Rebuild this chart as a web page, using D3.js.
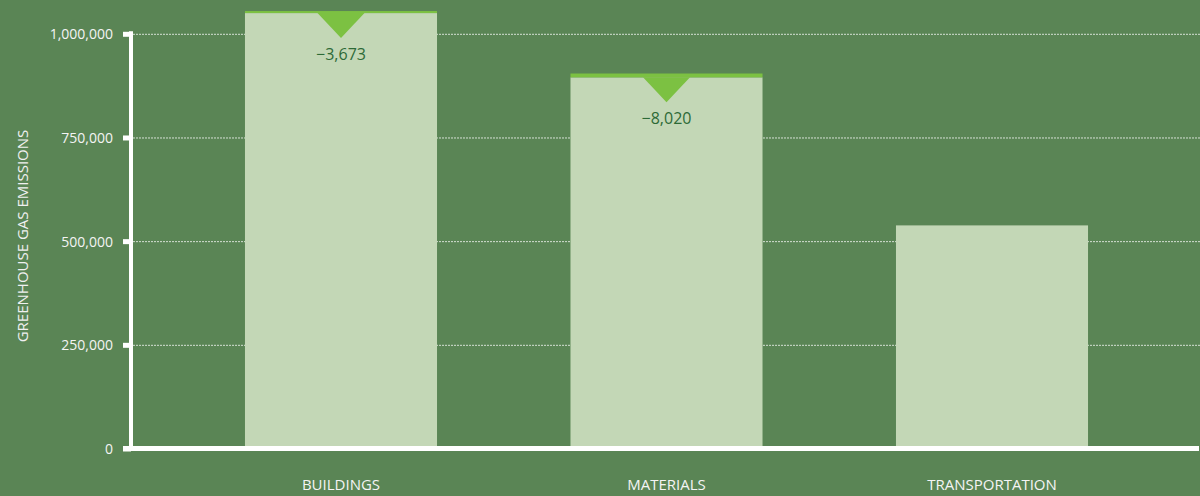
<!DOCTYPE html>
<html>
<head>
<meta charset="utf-8">
<script src="https://cdn.jsdelivr.net/npm/d3@7"></script>
<style>
  html, body { margin: 0; padding: 0; background: #5a8555; }
  svg { display: block; font-family: "Open Sans", sans-serif; }
</style>
</head>
<body>
<div id="chart"></div>
<script>
// data
var categories = ["BUILDINGS", "MATERIALS", "TRANSPORTATION"];
var netValues = [1050000, 895000, 538000];
var reductions = [3673, 8020, null];
var yTicks = [0, 250000, 500000, 750000, 1000000];
var yTitle = "GREENHOUSE GAS EMISSIONS";

var width = 1200, height = 496;
var bgColor = "#5a8555";
var barColor = "#c3d7b6";
var accent = "#7cc142";
var labelColor = "#2d6a36";
var axisColor = "#ffffff";

var data = categories.map((c, i) => ({ cat: c, net: netValues[i], cut: reductions[i] }));

var svg = d3.select("#chart")
    .append("svg")
    .attr("width", width)
    .attr("height", height);

svg.append("rect")
    .attr("width", width)
    .attr("height", height)
    .attr("fill", bgColor);

var x = d3.scaleBand()
    .domain(categories)
    .range([133, 1200])
    .paddingInner(0.41)
    .paddingOuter(0.344);

var y = d3.scaleLinear()
    .domain([0, 1000000])
    .range([448.5, 33.8]);

var fmt = d3.format(",");

// dotted gridlines
svg.append("g")
    .selectAll("line")
    .data(yTicks.filter(d => d > 0))
    .enter().append("line")
    .attr("x1", 133)
    .attr("x2", width)
    .attr("y1", d => y(d) + 0.5)
    .attr("y2", d => y(d) + 0.5)
    .attr("stroke", "rgba(255,255,255,0.75)")
    .attr("stroke-width", 1)
    .attr("stroke-dasharray", "2,1");

// bars
svg.append("g")
    .selectAll("rect")
    .data(data)
    .enter().append("rect")
    .attr("x", d => x(d.cat))
    .attr("width", x.bandwidth())
    .attr("y", d => y(d.net))
    .attr("height", d => y(0) - y(d.net))
    .attr("fill", barColor);

var cuts = data.filter(d => d.cut);

// reduction stripe on top of bar
svg.append("g")
    .selectAll("rect")
    .data(cuts)
    .enter().append("rect")
    .attr("x", d => x(d.cat))
    .attr("width", x.bandwidth())
    .attr("y", d => y(d.net + d.cut) - 0.5)
    .attr("height", d => y(d.net) - y(d.net + d.cut) + 0.5)
    .attr("fill", accent);

// downward arrows
var triW = 47, triH = 25;
svg.append("g")
    .selectAll("path")
    .data(cuts)
    .enter().append("path")
    .attr("d", d => {
        var cx = x(d.cat) + x.bandwidth() / 2, top = y(d.net);
        return "M" + (cx - triW / 2) + "," + top + "L" + (cx + triW / 2) + "," + top + "L" + cx + "," + (top + triH) + "Z";
    })
    .attr("fill", accent);

svg.append("g")
    .selectAll("text")
    .data(cuts)
    .enter().append("text")
    .attr("x", d => x(d.cat) + x.bandwidth() / 2)
    .attr("y", d => y(d.net) + triH + 22)
    .attr("text-anchor", "middle")
    .attr("font-size", "16px")
    .attr("fill", labelColor)
    .text(d => "\u2212" + fmt(d.cut));

// y axis
var yAxis = d3.axisLeft(y)
    .tickValues(yTicks)
    .tickFormat(fmt)
    .tickSizeInner(8)
    .tickSizeOuter(0)
    .tickPadding(10);

var gy = svg.append("g")
    .attr("transform", "translate(131,0)")
    .call(yAxis);
gy.select(".domain")
    .attr("stroke", axisColor)
    .attr("stroke-width", 4)
    .attr("d", "M0," + (y(1000000) - 2.5) + "V" + y(0));
gy.selectAll(".tick line")
    .attr("stroke", axisColor)
    .attr("stroke-width", 5);
gy.selectAll(".tick text")
    .attr("fill", "#f4f4f4")
    .attr("font-size", "14px")
    .attr("font-family", "Open Sans, sans-serif")
    .attr("dy", "0.36em");

// x axis line
svg.append("line")
    .attr("x1", 123)
    .attr("x2", 1199)
    .attr("y1", y(0))
    .attr("y2", y(0))
    .attr("stroke", axisColor)
    .attr("stroke-width", 5);

// category labels
var xAxis = d3.axisBottom(x).tickSize(0).tickPadding(0);
var gx = svg.append("g")
    .attr("transform", "translate(0,490)")
    .call(xAxis);
gx.select(".domain").remove();
gx.selectAll(".tick text")
    .attr("fill", "#f4f4f4")
    .attr("font-size", "15px")
    .attr("font-family", "Open Sans, sans-serif")
    .attr("dy", 0)
    .attr("y", 0);

// y title
svg.append("text")
    .attr("transform", "translate(28,236) rotate(-90)")
    .attr("text-anchor", "middle")
    .attr("font-size", "15px")
    .attr("fill", "#f0f0f0")
    .text(yTitle);
</script>
</body>
</html>
